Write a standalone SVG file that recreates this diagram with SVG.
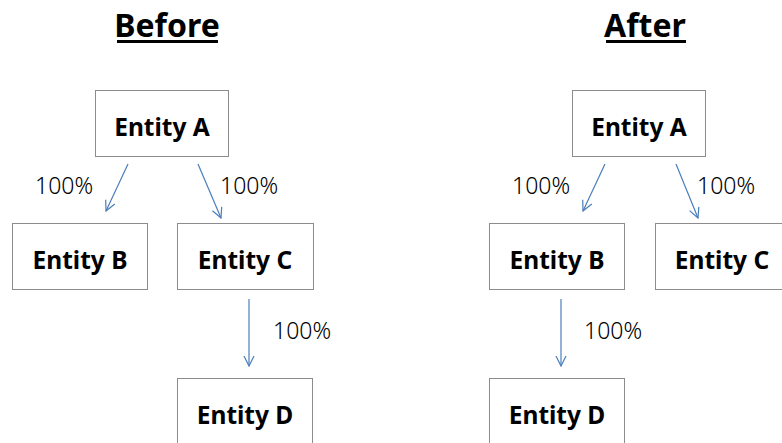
<svg xmlns="http://www.w3.org/2000/svg" width="782" height="443" viewBox="0 0 782 443">
  <defs>
    <marker id="arrow" viewBox="0 0 12 12" refX="11" refY="6" markerWidth="12" markerHeight="12" markerUnits="userSpaceOnUse" orient="auto">
      <path d="M1,1 L11,6 L1,11" fill="none" stroke="#4a7ebb" stroke-width="1.2"/>
    </marker>
  </defs>
  <style>
    .box { fill: #ffffff; stroke: #8c8c8c; stroke-width: 1; }
    .name { font-family: "Noto Sans", "Open Sans", sans-serif; font-weight: bold; font-size: 24.5px; fill: #000; text-anchor: middle; }
    .pct { font-family: "Noto Sans", "Open Sans", sans-serif; font-weight: 300; font-size: 23px; fill: #000; }
    .title { font-family: "Noto Sans", "Open Sans", sans-serif; font-weight: bold; font-size: 32px; fill: #000; text-anchor: middle; }
    .edge { stroke: #4a7ebb; stroke-width: 1.2; fill: none; marker-end: url(#arrow); }
  </style>
  <rect width="782" height="443" fill="#ffffff"/>

  <!-- headings -->
  <g id="title-before">
    <text class="title" x="167" y="37">Before</text>
    <rect x="117" y="40" width="101" height="3" fill="#000"/>
  </g>
  <g id="title-after">
    <text class="title" x="645" y="37">After</text>
    <rect x="606" y="40" width="80" height="3" fill="#000"/>
  </g>

  <!-- left tree -->
  <g id="before-entity-a">
    <rect class="box" x="95.5" y="90.5" width="133" height="66"/>
    <text class="name" x="162" y="136">Entity A</text>
  </g>
  <g id="before-entity-b">
    <rect class="box" x="12.5" y="223.5" width="135" height="66"/>
    <text class="name" x="80" y="269">Entity B</text>
  </g>
  <g id="before-entity-c">
    <rect class="box" x="177.5" y="223.5" width="136" height="66"/>
    <text class="name" x="245" y="269">Entity C</text>
  </g>
  <g id="before-entity-d">
    <rect class="box" x="177.5" y="378.5" width="135" height="70"/>
    <text class="name" x="245" y="424">Entity D</text>
  </g>

  <!-- right tree -->
  <g id="after-entity-a">
    <rect class="box" x="572.5" y="90.5" width="133" height="66"/>
    <text class="name" x="639" y="136">Entity A</text>
  </g>
  <g id="after-entity-b">
    <rect class="box" x="489.5" y="223.5" width="135" height="66"/>
    <text class="name" x="557" y="269">Entity B</text>
  </g>
  <g id="after-entity-c">
    <rect class="box" x="655.5" y="223.5" width="136" height="66"/>
    <text class="name" x="722" y="269">Entity C</text>
  </g>
  <g id="after-entity-d">
    <rect class="box" x="489.5" y="378.5" width="135" height="70"/>
    <text class="name" x="557" y="424">Entity D</text>
  </g>

  <!-- connectors -->
  <g id="connectors">
    <line class="edge" x1="128" y1="164" x2="106" y2="211"/>
    <line class="edge" x1="198" y1="164" x2="221" y2="218"/>
    <line class="edge" x1="249" y1="299" x2="249" y2="366"/>
    <line class="edge" x1="605" y1="164" x2="583" y2="211"/>
    <line class="edge" x1="676" y1="164" x2="698" y2="218"/>
    <line class="edge" x1="561" y1="299" x2="561" y2="366"/>
  </g>

  <!-- ratio labels -->
  <g id="labels">
    <text class="pct" x="35" y="194">100%</text>
    <text class="pct" x="220" y="194">100%</text>
    <text class="pct" x="273" y="339">100%</text>
    <text class="pct" x="512" y="194">100%</text>
    <text class="pct" x="697" y="194">100%</text>
    <text class="pct" x="584" y="339">100%</text>
  </g>
</svg>
